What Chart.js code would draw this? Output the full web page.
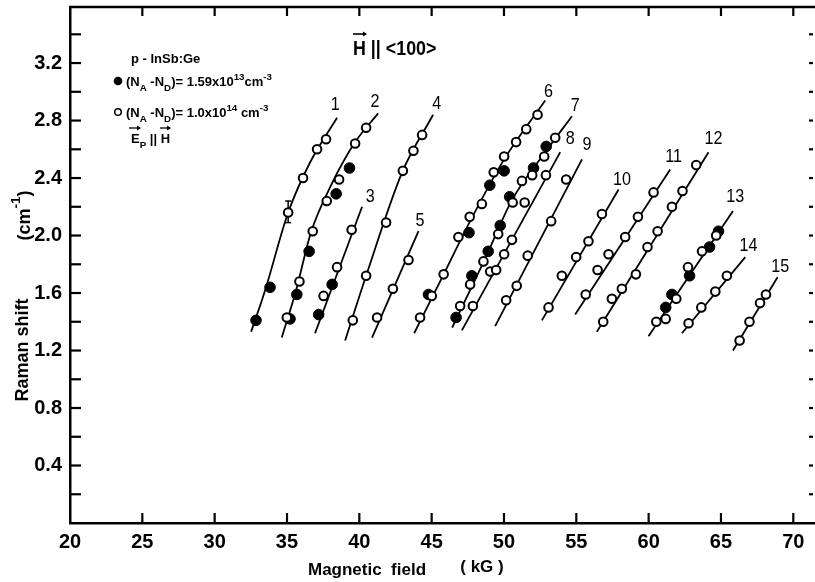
<!DOCTYPE html>
<html><head><meta charset="utf-8">
<script src="https://cdn.jsdelivr.net/npm/chart.js@4.4.1/dist/chart.umd.min.js"></script>
<style>html,body{margin:0;padding:0;background:#fff}#wrap{width:815px;height:582px}</style>
</head><body><div id="wrap"><canvas id="c" width="815" height="582"></canvas></div>
<script>
// ---- axis ticks ----
const xTicks = [20,25,30,35,40,45,50,55,60,65,70];
const yLabelTicks = [0.4,0.8,1.2,1.6,2.0,2.4,2.8,3.2];
const yTickMarks = [0.2,0.4,0.6,0.8,1.0,1.2,1.4,1.6,1.8,2.0,2.2,2.4,2.6,2.8,3.0,3.2,3.4];

// ---- data (Magnetic field kG, Raman shift cm^-1) ----
const fit1 = [[32.52,1.33],[33.49,1.62],[35.08,2.16],[36.60,2.51],[38.46,2.82]];
const open1 = [[35.08,2.16],[36.11,2.40],[37.08,2.60],[37.70,2.67]];
const filled1 = [[32.86,1.41],[33.83,1.64]];
const errBar1 = [[35.08,2.09],[35.08,2.24]];

const fit2 = [[34.64,1.29],[35.63,1.62],[36.65,2.02],[38.05,2.35],[39.71,2.65],[41.30,2.85]];
const open2 = [[34.99,1.43],[35.86,1.68],[36.78,2.03],[37.75,2.24],[38.60,2.39],[39.71,2.64],[40.47,2.75]];
const filled2 = [[35.21,1.42],[35.68,1.59],[36.53,1.89],[38.40,2.29],[39.32,2.47]];

const fit3 = [[36.94,1.32],[40.19,2.20]];
const open3 = [[37.53,1.58],[38.46,1.78],[39.47,2.04]];
const filled3 = [[37.19,1.45],[38.12,1.66]];

const fit4 = [[39.02,1.27],[40.47,1.72],[42.96,2.44],[45.10,2.84]];
const open4 = [[39.55,1.41],[40.47,1.72],[41.85,2.09],[43.01,2.45],[43.74,2.59],[44.34,2.70]];

const fit5 = [[40.88,1.29],[44.09,2.03]];
const open5 = [[41.23,1.43],[42.32,1.63],[43.40,1.83]];

const fit6 = [[43.79,1.32],[45.83,1.73],[47.66,2.10],[50.01,2.53],[52.85,2.94]];
const open6 = [[44.20,1.43],[45.01,1.58],[45.83,1.73],[46.85,1.99],[47.63,2.13],[48.47,2.22],[49.29,2.44],[50.01,2.55],[50.84,2.65],[51.54,2.74],[52.32,2.84]];
const filled6 = [[44.78,1.59],[47.58,2.02],[49.02,2.35],[50.01,2.45]];

const fit7 = [[46.42,1.36],[48.70,1.84],[50.57,2.25],[52.85,2.58],[54.70,2.83]];
const open7 = [[46.97,1.51],[47.66,1.66],[48.58,1.82],[49.60,2.01],[50.60,2.23],[51.24,2.38],[51.95,2.42],[52.78,2.55],[53.54,2.68]];
const filled7 = [[46.69,1.43],[47.78,1.72],[48.91,1.89],[49.74,2.07],[50.39,2.27],[52.04,2.47],[52.92,2.62]];

const fit8 = [[47.09,1.34],[53.89,2.58]];
const open8 = [[47.85,1.51],[49.05,1.75],[49.46,1.76],[50.01,1.87],[50.55,1.97],[51.43,2.23],[52.90,2.42]];

const fit9 = [[49.39,1.37],[55.39,2.53]];
const open9 = [[50.15,1.55],[50.88,1.65],[51.64,1.86],[53.26,2.10],[54.30,2.39]];

const fit10 = [[52.62,1.41],[57.92,2.32]];
const open10 = [[53.08,1.50],[54.00,1.72],[54.99,1.85],[55.84,1.96],[56.77,2.15]];

const fit11 = [[54.92,1.45],[61.49,2.46]];
const open11 = [[55.65,1.59],[56.47,1.76],[57.23,1.87],[58.38,1.99],[59.26,2.13],[60.34,2.30]];

const fit12 = [[56.42,1.33],[64.14,2.58]];
const open12 = [[56.86,1.40],[57.46,1.56],[58.15,1.63],[59.12,1.73],[59.92,1.92],[60.62,2.03],[61.61,2.20],[62.34,2.31],[63.29,2.49]];

const fit13 = [[59.99,1.30],[65.83,2.17]];
const open13 = [[60.53,1.40],[61.18,1.42],[61.91,1.56],[62.72,1.78],[63.69,1.89],[64.67,2.00]];
const filled13 = [[61.18,1.50],[61.61,1.59],[62.83,1.72],[64.21,1.92],[64.83,2.03]];

const fit14 = [[62.30,1.32],[66.68,1.85]];
const open14 = [[62.76,1.39],[63.64,1.50],[64.61,1.61],[65.41,1.72]];

const fit15 = [[65.83,1.20],[68.91,1.71]];
const open15 = [[66.29,1.27],[66.97,1.40],[67.70,1.53],[68.11,1.59]];

// ---- curve labels ----
const labelText = ['1','2','3','4','5','6','7','8','9','10','11','12','13','14','15'];
const labelX = [38.33,41.09,40.75,45.36,44.20,53.08,54.92,54.58,55.73,58.15,61.72,64.49,65.99,66.91,69.10];
const labelY = [2.91,2.93,2.27,2.92,2.10,3.00,2.90,2.67,2.63,2.39,2.55,2.67,2.27,1.93,1.78];

const FONT = '"Liberation Sans", Arial, sans-serif';
const f = (w, s) => `${w} ${s}px ${FONT}`;
const toXY = arr => arr.map(p => ({x: p[0], y: p[1]}));

const curves = [
  {fit: fit1, open: open1, filled: filled1, smooth: true},
  {fit: fit2, open: open2, filled: filled2, smooth: true},
  {fit: fit3, open: open3, filled: filled3},
  {fit: fit4, open: open4, smooth: true},
  {fit: fit5, open: open5},
  {fit: fit6, open: open6, filled: filled6, smooth: true},
  {fit: fit7, open: open7, filled: filled7, smooth: true},
  {fit: fit8, open: open8},
  {fit: fit9, open: open9},
  {fit: fit10, open: open10},
  {fit: fit11, open: open11},
  {fit: fit12, open: open12},
  {fit: fit13, open: open13, filled: filled13},
  {fit: fit14, open: open14},
  {fit: fit15, open: open15}
];

const datasets = [];
curves.forEach((c, i) => {
  datasets.push({label: 'fit ' + (i+1), data: toXY(c.fit), showLine: true, pointRadius: 0,
    borderColor: '#000', borderWidth: 1.8, cubicInterpolationMode: c.smooth ? 'monotone' : 'default', order: 2});
  datasets.push({label: 'open ' + (i+1), data: toXY(c.open), showLine: false, pointRadius: 4.3,
    pointBorderWidth: 2, pointBorderColor: '#000', pointBackgroundColor: '#fff', order: 0});
  if (c.filled) datasets.push({label: 'filled ' + (i+1), data: toXY(c.filled), showLine: false, pointRadius: 5.3,
    pointBorderWidth: 1, pointBorderColor: '#000', pointBackgroundColor: '#000', order: 0});
});
datasets.push({label: 'error', data: toXY(errBar1), showLine: true, borderColor: '#000', borderWidth: 1.5,
  pointStyle: 'line', pointRadius: 3, pointBorderWidth: 1.5, pointBorderColor: '#000', order: 1});

function rich(ctx, x, y, parts, size, weight) {
  let cx = x;
  parts.forEach(([t, m]) => {
    let s = size, dy = 0;
    if (m === 'sub') { s = size * 0.75; dy = size * 0.35; }
    if (m === 'sup') { s = size * 0.75; dy = -size * 0.5; }
    ctx.font = f(weight, s);
    ctx.fillText(t, cx, y + dy);
    cx += ctx.measureText(t).width;
  });
  return cx;
}
function arrow(ctx, x1, x2, y) {
  ctx.beginPath(); ctx.moveTo(x1, y); ctx.lineTo(x2, y); ctx.stroke();
  ctx.beginPath(); ctx.moveTo(x2 + 1, y); ctx.lineTo(x2 - 3, y - 2.5); ctx.lineTo(x2 - 3, y + 2.5); ctx.closePath(); ctx.fill();
}
function noPad(s) { s.paddingTop = 0; s.paddingBottom = 0; s.paddingLeft = 0; s.paddingRight = 0; }

const decor = {
  id: 'decor',
  afterDraw(chart) {
    const {ctx, chartArea: a, scales: {x, y}} = chart;
    ctx.save();
    ctx.strokeStyle = '#000'; ctx.fillStyle = '#000';
    ctx.lineWidth = 2.5;
    ctx.beginPath(); ctx.moveTo(a.left - 1, a.top); ctx.lineTo(a.right, a.top); ctx.stroke();
    ctx.lineWidth = 2.2;
    xTicks.forEach(v => {
      if (v <= 20) return;
      const px = x.getPixelForValue(v);
      ctx.beginPath(); ctx.moveTo(px, a.bottom); ctx.lineTo(px, a.bottom - 10); ctx.stroke();
      ctx.beginPath(); ctx.moveTo(px, a.top); ctx.lineTo(px, a.top + 9); ctx.stroke();
    });
    yTickMarks.forEach(v => {
      const py = y.getPixelForValue(v);
      ctx.beginPath(); ctx.moveTo(a.left, py); ctx.lineTo(a.left + 11, py); ctx.stroke();
      ctx.beginPath(); ctx.moveTo(a.right - 6, py); ctx.lineTo(a.right - 2, py); ctx.stroke();
    });
    // curve labels (slightly condensed)
    ctx.textAlign = 'center'; ctx.textBaseline = 'middle';
    ctx.font = f('normal', 19);
    labelText.forEach((t, i) => {
      ctx.save();
      ctx.translate(x.getPixelForValue(labelX[i]), y.getPixelForValue(labelY[i]));
      ctx.scale(0.85, 1);
      ctx.fillText(t, 0, 0);
      ctx.restore();
    });
    // axis titles
    ctx.font = f('bold', 17);
    ctx.fillText('Magnetic  field', 367, 570);
    ctx.fillText('( kG )', 482, 567);
    ctx.save();
    ctx.translate(23, 350); ctx.rotate(-Math.PI / 2);
    ctx.font = f('bold', 18);
    ctx.fillText('Raman shift', 0, 0);
    ctx.restore();
    ctx.save();
    ctx.translate(23, 217); ctx.rotate(-Math.PI / 2);
    ctx.textAlign = 'left'; ctx.textBaseline = 'middle';
    ctx.font = f('bold', 18);
    const w = ctx.measureText('(cm').width + ctx.measureText(')').width + 9;
    rich(ctx, -w / 2, 2, [['(cm', 'n'], ['-1', 'sup'], [')', 'n']], 18, 'bold');
    ctx.restore();
    // title
    ctx.textAlign = 'left'; ctx.textBaseline = 'alphabetic';
    ctx.save();
    ctx.translate(353, 55); ctx.scale(0.85, 1);
    ctx.font = f('bold', 21);
    ctx.fillText('H || <100>', 0, 0);
    ctx.restore();
    ctx.lineWidth = 1.6;
    arrow(ctx, 353, 366, 34);
    // legend block
    ctx.font = f('bold', 13);
    ctx.fillText('p - InSb:Ge', 131, 63);
    ctx.beginPath(); ctx.arc(118, 81, 4.3, 0, Math.PI * 2); ctx.fill();
    rich(ctx, 126, 86, [['(N', 'n'], ['A', 'sub'], [' -N', 'n'], ['D', 'sub'], [')= 1.59x10', 'n'], ['13', 'sup'], ['cm', 'n'], ['-3', 'sup']], 13, 'bold');
    ctx.lineWidth = 1.5;
    ctx.beginPath(); ctx.arc(118, 112, 3.3, 0, Math.PI * 2); ctx.stroke();
    rich(ctx, 126, 117, [['(N', 'n'], ['A', 'sub'], [' -N', 'n'], ['D', 'sub'], [')= 1.0x10', 'n'], ['14', 'sup'], [' cm', 'n'], ['-3', 'sup']], 13, 'bold');
    const ex = rich(ctx, 131, 143, [['E', 'n'], ['P', 'sub'], [' || H', 'n']], 13, 'bold');
    ctx.lineWidth = 1.3;
    arrow(ctx, 129, 140, 128);
    arrow(ctx, ex - 10, ex, 128);
    ctx.restore();
  }
};

new Chart(document.getElementById('c'), {
  type: 'scatter',
  data: {datasets},
  options: {
    responsive: false, animation: false, events: [],
    layout: {autoPadding: false, padding: {top: 7, right: 0, left: 0, bottom: 0}},
    plugins: {legend: {display: false}, tooltip: {enabled: false}},
    scales: {
      x: {type: 'linear', min: 20, max: 71.5,
        afterFit: s => { s.height = 59; noPad(s); },
        afterBuildTicks: s => { s.ticks = xTicks.map(v => ({value: v})); },
        grid: {display: false, drawTicks: false},
        border: {display: true, color: '#000', width: 2.5},
        ticks: {color: '#000', font: {family: FONT, size: 20, weight: 'bold'}, padding: 7, maxRotation: 0, autoSkip: false, callback: v => String(v)}},
      y: {type: 'linear', min: 0, max: 3.59,
        afterFit: s => { s.width = 70; noPad(s); },
        afterBuildTicks: s => { s.ticks = yLabelTicks.map(v => ({value: v})); },
        grid: {display: false, drawTicks: false},
        border: {display: true, color: '#000', width: 2.5},
        ticks: {color: '#000', font: {family: FONT, size: 20, weight: 'bold'}, padding: 8, autoSkip: false, callback: v => v.toFixed(1)}}
    }
  },
  plugins: [decor]
});
</script></body></html>
